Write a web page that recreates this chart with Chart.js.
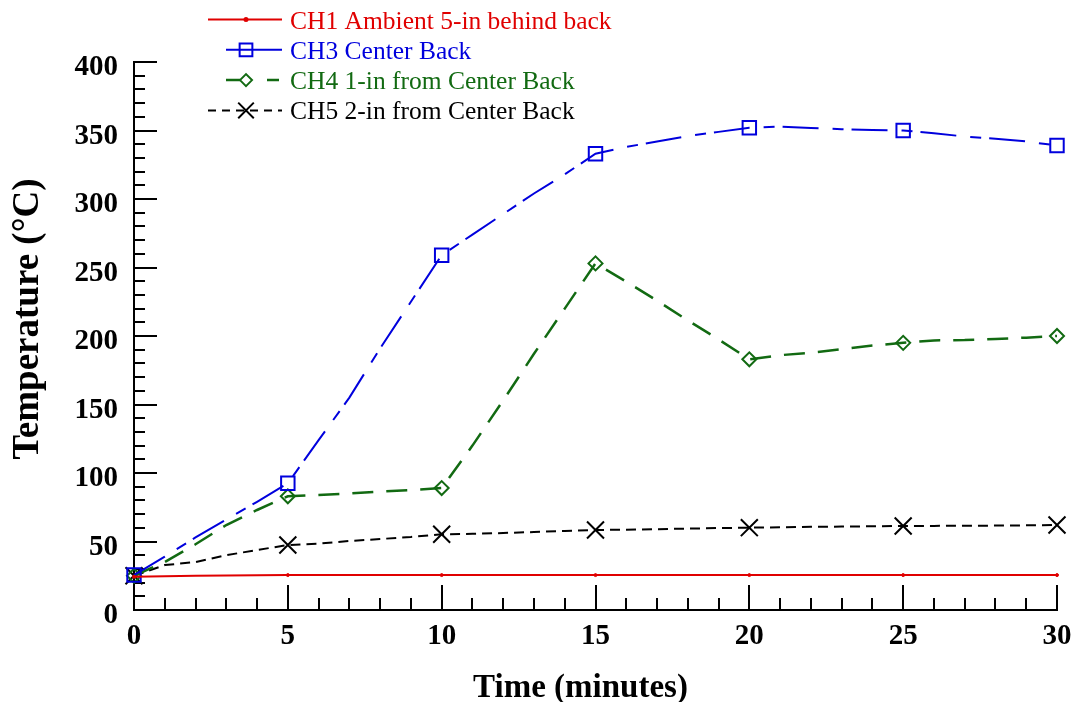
<!DOCTYPE html>
<html>
<head>
<meta charset="utf-8">
<script src="https://cdn.jsdelivr.net/npm/chart.js@4.4.1/dist/chart.umd.min.js"></script>
<style>
  html, body { margin: 0; padding: 0; background: #fff; }
</style>
</head>
<body>
<canvas id="chart" width="1074" height="702"></canvas>
<script>
// readings taken every minute, markers every 5 minutes
const minutes = [0, 1, 2, 3, 4, 5, 6, 7, 8, 9, 10, 11, 12, 13, 14, 15,
  16, 17, 18, 19, 20, 21, 22, 23, 24, 25, 26, 27, 28, 29, 30];

const ch1Ambient = [24.3, 24.7, 25.0, 25.2, 25.4, 25.5, 25.5, 25.5, 25.5, 25.5, 25.5,
  25.5, 25.5, 25.5, 25.5, 25.5, 25.5, 25.5, 25.5, 25.5, 25.5,
  25.5, 25.5, 25.5, 25.5, 25.5, 25.5, 25.5, 25.5, 25.5, 25.5];
const ch3CenterBack = [25.5, 39, 53, 66, 79, 92.5, 124, 155, 191, 225, 259,
  274, 289, 304, 318, 333, 338, 342, 346, 349, 352,
  352.8, 351.8, 351, 350.4, 350, 348, 345.6, 344, 342, 339];
const ch4OneIn = [25, 35, 48, 62, 73, 83, 84, 85, 86.4, 87.6, 89,
  120, 153, 187, 220, 253, 239.7, 225.8, 211.4, 197.5, 183,
  186, 187.8, 190.3, 193, 195, 196.8, 197, 197.8, 198.8, 200];
const ch5TwoIn = [25, 32.8, 35, 40, 43.8, 47.4, 48.4, 50.4, 51.8, 53.3, 55.3,
  55.6, 56.2, 56.9, 57.7, 58.4, 58.6, 59.0, 59.4, 59.8, 60.1,
  60.4, 60.7, 60.9, 61.1, 61.3, 61.4, 61.5, 61.6, 61.8, 62];

const seriesLabels = [
  'CH1 Ambient 5-in behind back',
  'CH3 Center Back',
  'CH4 1-in from Center Back',
  'CH5 2-in from Center Back'
];
const yTicks = [0, 50, 100, 150, 200, 250, 300, 350, 400];
const xTicks = [0, 5, 10, 15, 20, 25, 30];

const SERIF = '"Liberation Serif", "Times New Roman", serif';
const RED = '#e00000', BLUE = '#0000dd', GREEN = '#126a12', BLACK = '#000000';

function toPoints(values) {
  return minutes.map((t, i) => ({ x: t, y: values[i] }));
}
function every5(r) {
  return (ctx) => (minutes[ctx.dataIndex] % 5 === 0 ? r : 0);
}

function drawMarker(ctx, style, r, x, y) {
  ctx.beginPath();
  if (style === 'rect') {
    const s = r * Math.SQRT1_2;
    ctx.rect(x - s, y - s, 2 * s, 2 * s);
  } else if (style === 'rectRot') {
    ctx.moveTo(x - r, y); ctx.lineTo(x, y - r); ctx.lineTo(x + r, y); ctx.lineTo(x, y + r);
    ctx.closePath();
  } else if (style === 'crossRot') {
    const s = r * Math.SQRT1_2;
    ctx.moveTo(x - s, y - s); ctx.lineTo(x + s, y + s);
    ctx.moveTo(x + s, y - s); ctx.lineTo(x - s, y + s);
  } else {
    ctx.arc(x, y, r, 0, Math.PI * 2);
    ctx.fill();
  }
  ctx.stroke();
}

// inward major/minor tick marks like the original plot
const inwardTicks = {
  id: 'inwardTicks',
  beforeDatasetsDraw(chart) {
    const { ctx, chartArea: a, scales } = chart;
    ctx.save();
    ctx.strokeStyle = '#000';
    ctx.lineWidth = 2;
    ctx.beginPath();
    for (let t = 0; t <= 30; t++) {
      const px = Math.round(scales.x.getPixelForValue(t));
      const len = t % 5 === 0 ? 25 : 12;
      ctx.moveTo(px, a.bottom);
      ctx.lineTo(px, a.bottom - len);
    }
    for (let v = 0; v <= 400; v += 10) {
      const py = Math.round(scales.y.getPixelForValue(v));
      const len = v % 50 === 0 ? 23 : 11;
      ctx.moveTo(a.left, py);
      ctx.lineTo(a.left + len, py);
    }
    ctx.stroke();
    ctx.restore();
  }
};

// legend with line sample + marker, text coloured like its series
const legendSamples = {
  id: 'legendSamples',
  afterDraw(chart) {
    const ctx = chart.ctx;
    const starts = [208, 226, 226, 208];
    const dashes = [[], [], [14, 27, 12], [8, 6]];
    ctx.save();
    chart.data.datasets.forEach((ds, i) => {
      const ly = 19.5 + i * 30.3;
      ctx.strokeStyle = ds.borderColor;
      ctx.fillStyle = ds.borderColor;
      ctx.lineWidth = ds.borderWidth;
      ctx.setLineDash(dashes[i]);
      ctx.beginPath();
      ctx.moveTo(starts[i], ly);
      ctx.lineTo(282, ly);
      ctx.stroke();
      ctx.setLineDash([]);
      ctx.lineWidth = 2;
      drawMarker(ctx, ds.pointStyle, ds.legendRadius, 246, ly);
      ctx.font = '25.5px ' + SERIF;
      ctx.textAlign = 'left';
      ctx.textBaseline = 'alphabetic';
      ctx.fillText(ds.label, 290, ly + 9);
    });
    ctx.restore();
  }
};

const axisTitles = {
  id: 'axisTitles',
  afterDraw(chart) {
    const { ctx, chartArea: a } = chart;
    ctx.save();
    ctx.fillStyle = '#000';
    ctx.textAlign = 'center';
    ctx.textBaseline = 'alphabetic';
    ctx.font = 'bold 33px ' + SERIF;
    ctx.fillText('Time (minutes)', (a.left + a.right) / 2 - 15, 697);
    ctx.font = 'bold 37px ' + SERIF;
    ctx.translate(38, (a.top + a.bottom) / 2 - 17);
    ctx.rotate(-Math.PI / 2);
    ctx.fillText('Temperature (\u00B0C)', 0, 0);
    ctx.restore();
  }
};

new Chart(document.getElementById('chart').getContext('2d'), {
  type: 'line',
  data: {
    datasets: [
      {
        label: seriesLabels[0],
        data: toPoints(ch1Ambient),
        borderColor: RED, backgroundColor: RED, borderWidth: 2,
        pointStyle: 'circle', pointRadius: every5(1.5), legendRadius: 1.5,
        pointBorderWidth: 1, clip: false
      },
      {
        label: seriesLabels[1],
        data: toPoints(ch3CenterBack),
        borderColor: BLUE, backgroundColor: 'transparent', borderWidth: 2,
        borderDash: [36, 14, 11, 8],
        pointStyle: 'rect', pointRadius: every5(9.5), legendRadius: 9,
        pointBorderWidth: 2, clip: false
      },
      {
        label: seriesLabels[2],
        data: toPoints(ch4OneIn),
        borderColor: GREEN, backgroundColor: 'transparent', borderWidth: 2.5,
        borderDash: [21, 13],
        pointStyle: 'rectRot', pointRadius: every5(7), legendRadius: 6,
        pointBorderWidth: 2, clip: false
      },
      {
        label: seriesLabels[3],
        data: toPoints(ch5TwoIn),
        borderColor: BLACK, backgroundColor: 'transparent', borderWidth: 2,
        borderDash: [10, 6],
        pointStyle: 'crossRot', pointRadius: every5(12), legendRadius: 11,
        pointBorderWidth: 2, clip: false
      }
    ]
  },
  options: {
    responsive: false,
    animation: false,
    events: [],
    layout: { padding: { top: 62, right: 17, left: 0, bottom: 0 } },
    elements: { line: { tension: 0 } },
    plugins: { legend: { display: false }, tooltip: { enabled: false } },
    scales: {
      x: {
        type: 'linear', min: 0, max: 30,
        afterFit: (s) => { s.height = 92; s.paddingLeft = 0; s.paddingRight = 0; },
        afterBuildTicks: (s) => { s.ticks = xTicks.map((v) => ({ value: v })); },
        grid: { display: false, drawTicks: false },
        border: { display: true, color: '#000', width: 2 },
        ticks: {
          color: '#000', padding: 9, maxRotation: 0,
          font: { family: SERIF, size: 29, weight: 'bold' }
        }
      },
      y: {
        type: 'linear', min: 0, max: 400,
        afterFit: (s) => { s.width = 134; s.paddingTop = 0; s.paddingBottom = 0; },
        afterBuildTicks: (s) => { s.ticks = yTicks.map((v) => ({ value: v })); },
        grid: { display: false, drawTicks: false },
        border: { display: true, color: '#000', width: 2 },
        ticks: {
          color: '#000', padding: 16, labelOffset: 6,
          font: { family: SERIF, size: 29, weight: 'bold' }
        }
      }
    }
  },
  plugins: [inwardTicks, legendSamples, axisTitles]
});
</script>
</body>
</html>
